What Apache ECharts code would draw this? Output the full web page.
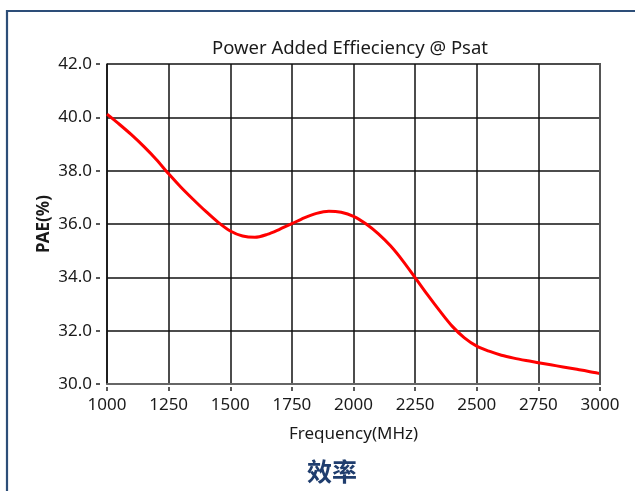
<!DOCTYPE html>
<html>
<head>
<meta charset="utf-8">
<script src="https://cdn.jsdelivr.net/npm/echarts@6/dist/echarts.min.js"></script>
<style>
html,body{margin:0;padding:0;background:#fff;}
#c{width:635px;height:491px;}
</style>
</head>
<body>
<div id="c"></div>
<script>
var titleText = 'Power Added Effieciency @ Psat';
var xName = 'Frequency(MHz)';
var yName = 'PAE(%)';
var caption = '效率';
var freq = [1000,1050,1100,1150,1200,1250,1300,1350,1400,1450,1500,1550,1600,1650,1700,1750,1800,1850,1900,1950,2000,2050,2100,2150,2200,2250,2300,2350,2400,2450,2500,2550,2600,2650,2700,2750,2800,2850,2900,2950,3000];
var pae  = [40.12,39.74,39.34,38.90,38.42,37.88,37.38,36.92,36.48,36.07,35.74,35.55,35.50,35.61,35.80,36.01,36.23,36.40,36.48,36.44,36.29,36.01,35.64,35.18,34.62,33.99,33.35,32.74,32.17,31.73,31.42,31.23,31.08,30.97,30.88,30.80,30.72,30.64,30.56,30.48,30.39];
var yMin = 30, yMax = 42, yStep = 2;
var xMin = 1000, xMax = 3000, xStep = 250;

var font = '"Noto Sans", "Open Sans", sans-serif';
var chart = echarts.init(document.getElementById('c'));
chart.setOption({
  backgroundColor: '#fff',
  animation: false,
  title: {
    text: titleText, left: 345, top: 34, textAlign: 'center',
    textStyle: {fontFamily: font, fontSize: 18.5, fontWeight: 'normal', color: '#1a1a1a'}
  },
  grid: {left: 107, right: 35, top: 64, bottom: 107, show: false},
  xAxis: [{
    type: 'value', min: xMin, max: xMax, interval: xStep,
    name: xName, nameLocation: 'middle', nameGap: 42,
    nameTextStyle: {fontFamily: font, fontSize: 17, color: '#1a1a1a'},
    axisLine: {show: true, lineStyle: {color: '#666', width: 2}},
    axisTick: {show: false},
    axisLabel: {fontFamily: font, fontSize: 17, color: '#1a1a1a', margin: 13, formatter: function(v){return String(v);}},
    splitLine: {show: true, lineStyle: {color: '#111', width: 1.5}}
  }, {
    type: 'value', min: xMin, max: xMax, interval: xStep, position: 'bottom', offset: 3,
    axisLine: {show: false}, axisLabel: {show: false}, splitLine: {show: false},
    axisTick: {show: true, length: 4, lineStyle: {color: '#222', width: 1.5}}
  }],
  yAxis: [{
    type: 'value', min: yMin, max: yMax, interval: yStep,
    name: yName, nameLocation: 'middle', nameGap: 54, nameRotate: 90, nameMoveOverlap: false,
    nameTextStyle: {fontFamily: font, fontSize: 17, fontWeight: 'bold', color: '#1a1a1a'},
    axisLine: {show: true, lineStyle: {color: '#111', width: 1.5}},
    axisTick: {show: false},
    axisLabel: {fontFamily: font, fontSize: 17, color: '#1a1a1a', margin: 15, formatter: function(v){return v.toFixed(1);}},
    splitLine: {show: true, lineStyle: {color: '#111', width: 1.5}}
  }, {
    type: 'value', min: yMin, max: yMax, interval: yStep, position: 'left', offset: 7,
    axisLine: {show: false}, axisLabel: {show: false}, splitLine: {show: false},
    axisTick: {show: true, length: 4, lineStyle: {color: '#222', width: 1.5}}
  }],
  graphic: [
    {type: 'polyline', shape: {points: [[7, 495], [7, 11], [640, 11]]}, style: {fill: 'none', stroke: '#2d4e78', lineWidth: 2.2}, z: 10},
    {type: 'line', shape: {x1: 600, y1: 63, x2: 600, y2: 385}, style: {stroke: '#555', lineWidth: 2}, z: 10},
    {type: 'text', style: {text: caption, x: 332, y: 471, textAlign: 'center', textVerticalAlign: 'middle', font: 'bold 25px "Noto Sans CJK SC", sans-serif', fill: '#1f3d6e'}, z: 10}
  ],
  series: [{
    type: 'line', data: freq.map(function(f, i){return [f, pae[i]];}),
    xAxisIndex: 0, yAxisIndex: 0,
    smooth: 0.3, showSymbol: false, symbol: 'none',
    lineStyle: {color: '#ff0000', width: 3}, z: 4
  }]
});
</script>
</body>
</html>
